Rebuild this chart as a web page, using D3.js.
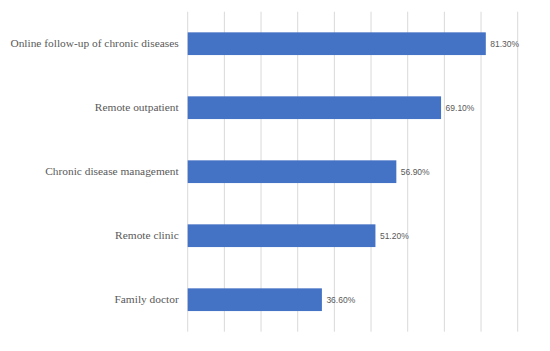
<!DOCTYPE html>
<html>
<head>
<meta charset="utf-8">
<script src="https://cdn.jsdelivr.net/npm/d3@7"></script>
<style>
  body { margin: 0; background: #fff; }
</style>
</head>
<body>
<div id="chart"></div>
<script>
var categories = ["Online follow-up of chronic diseases", "Remote outpatient", "Chronic disease management", "Remote clinic", "Family doctor"];
var values = [81.3, 69.1, 56.9, 51.2, 36.6];
var ticks = [0, 10, 20, 30, 40, 50, 60, 70, 80, 90];

var margin = {top: 11.7, right: 32.3, bottom: 19.3, left: 187.7};
var width = 550 - margin.left - margin.right;
var height = 351 - margin.top - margin.bottom;

var svg = d3.select("#chart").append("svg")
  .attr("width", 550)
  .attr("height", 351)
.append("g")
  .attr("transform", "translate(" + margin.left + "," + margin.top + ")");

var x = d3.scaleLinear()
  .domain([0, 90])
  .range([0, width]);

var y = d3.scaleBand()
  .domain(categories)
  .range([0, height])
  .paddingInner(0.645)
  .paddingOuter(0.3225);

// vertical gridlines
svg.append("g")
  .attr("class", "grid")
  .selectAll("line")
  .data(ticks)
  .enter().append("line")
  .attr("x1", function (d) { return x(d); })
  .attr("x2", function (d) { return x(d); })
  .attr("y1", 0)
  .attr("y2", height)
  .attr("stroke", "#d9d9d9")
  .attr("stroke-width", 1);

svg.selectAll(".bar")
  .data(values)
  .enter().append("rect")
  .attr("class", "bar")
  .attr("x", x(0))
  .attr("y", function (d, i) { return y(categories[i]); })
  .attr("width", function (d) { return x(d) - x(0); })
  .attr("height", y.bandwidth())
  .attr("fill", "#4472c4");

var yAxis = d3.axisLeft(y).tickSize(0).tickPadding(9);
var gy = svg.append("g").call(yAxis);
gy.select(".domain").remove();
gy.selectAll("text")
  .attr("fill", "#595959")
  .style("font-family", "'Liberation Serif', 'DejaVu Serif', serif")
  .style("font-size", "11.4px");

svg.selectAll(".val")
  .data(values)
  .enter().append("text")
  .attr("class", "val")
  .attr("x", function (d) { return x(d) + 4.5; })
  .attr("y", function (d, i) { return y(categories[i]) + y.bandwidth() / 2; })
  .attr("dy", "0.35em")
  .attr("fill", "#595959")
  .style("font-family", "'Liberation Sans Narrow', 'Liberation Sans', sans-serif")
  .style("font-size", "8.5px")
  .text(function (d) { return d.toFixed(2) + "%"; });
</script>
</body>
</html>
